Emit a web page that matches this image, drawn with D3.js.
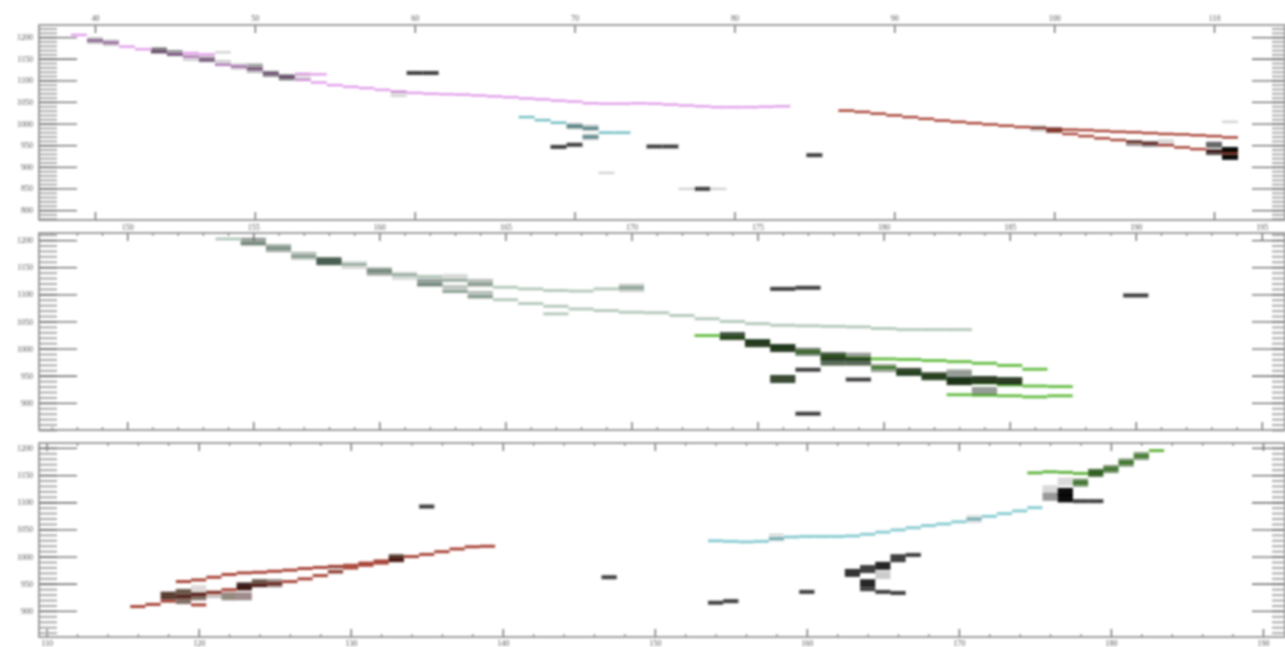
<!DOCTYPE html>
<html>
<head>
<meta charset="utf-8">
<script src="https://cdn.jsdelivr.net/npm/d3@7"></script>
<style>
body { margin: 0; background: #fff; }
svg text { font-family: "Liberation Serif", serif; font-size: 8px; fill: #555; }
</style>
</head>
<body>
<script>
// tick labels
var xTicks1 = [40, 50, 60, 70, 80, 90, 100, 110];
var xTicks2 = [150, 155, 160, 165, 170, 175, 180, 185, 190, 195];
var xTicks3 = [110, 120, 130, 140, 150, 160, 170, 180, 190];
var yTicks1 = [800, 850, 900, 950, 1000, 1050, 1100, 1150, 1200];
var yTicks23 = [900, 950, 1000, 1050, 1100, 1150, 1200];

// ---- panel 1 : [frame, frequency] ----
var p1Violet = [[39,1205],[40,1192],[41,1187],[42,1178],[43,1172],[44,1166],[45,1160],[46,1155],[47,1147],[48,1136],[49,1132],[50,1126],[51,1116],[52,1108],[53,1101],[54,1095],[55,1089],[56,1085],[57,1082],[58,1078],[59,1074],[60,1071],[61,1069],[62,1068],[63,1067],[64,1065],[65,1063],[66,1061],[67,1058],[68,1056],[69,1053],[70,1051],[71,1047],[72,1046],[73,1046],[74,1047],[75,1046],[76,1044],[77,1042],[78,1040],[79,1038],[80,1038],[81,1038],[82,1039],[83,1040]];
var p1VioletBranch = [[46,1163],[47,1160],[53,1115],[54,1114]];
var p1Teal = [[67,1015],[68,1008],[69,1002],[70,994],[71,989],[72,979],[73,979],[71,969]];
var p1Brown = [[87,1030],[88,1027],[89,1023],[90,1019],[91,1015],[92,1011],[93,1007],[94,1004],[95,1001],[96,998],[97,995],[98,992],[99,990],[100,988],[101,986],[102,985],[103,983],[104,981],[105,980],[106,978],[107,976],[108,975],[109,973],[110,971],[111,968]];
var p1BrownLow = [[100,982],[101,976],[102,971],[103,966],[104,962],[105,958],[106,954],[107,950],[108,945],[109,941],[110,936],[111,933]];
var p1Faint = [[48,1165],[72,886],[77,849],[79,849],[111,1004]];
var p1Dark = [[60,1117],[61,1117],[69,946],[70,951],[75,947],[76,947],[85,927],[78,849]];
// [frame, frequency, energy]
var p1Blocks = [[40,1192,0.35],[41,1187,0.3],[44,1169,0.55],[45,1163,0.45],[46,1152,0.2],[47,1149,0.45],[48,1140,0.2],[49,1132,0.25],[50,1132,0.35],[50,1124,0.3],[51,1115,0.5],[52,1107,0.55],[53,1107,0.15],[59,1068,0.15],
  [70,994,0.35],[71,990,0.3],[71,969,0.3],
  [99,989,0.2],[100,985,0.25],[105,955,0.4],[106,953,0.45],[107,957,0.15],[110,951,0.6],[110,934,0.65],[111,939,0.95],[111,923,0.95]];

// ---- panel 2 ----
var p2Sage = [[154,1202],[155,1194],[156,1185],[157,1170],[158,1161],[159,1155],[160,1143],[161,1136],[162,1133],[163,1126],[164,1119],[165,1113],[166,1110],[167,1107],[168,1106],[169,1110],[170,1112]];
var p2SageLow = [[162,1118],[163,1105],[164,1096],[165,1090],[166,1083],[167,1078],[168,1073],[169,1070],[170,1067],[171,1066],[172,1061],[173,1055],[174,1050],[175,1046],[176,1043],[177,1042],[178,1041],[179,1040],[180,1037],[181,1035],[182,1035],[183,1035],[167,1064]];
var p2Green = [[173,1024],[174,1021],[175,1013],[176,1003],[177,994],[178,986],[179,982],[180,981],[181,980],[182,978],[183,976],[184,973],[185,969],[186,962]];
var p2GreenMid = [[180,965],[181,955],[182,949],[183,942],[184,937],[185,933],[186,931],[187,930]];
var p2GreenLow = [[183,915],[184,914],[185,913],[186,911],[187,913]];
var p2SageBlocks = [[155,1197,0.5],[156,1185,0.45],[157,1171,0.35],[158,1161,0.85],[159,1154,0.2],[160,1142,0.5],[161,1134,0.2],[162,1123,0.3],[163,1130,0.2],[162,1121,0.3],[163,1110,0.3],[164,1121,0.35],[164,1099,0.35],[170,1112,0.3]];
var p2GreenBlocks = [[174,1023,0.8],[175,1010,0.9],[176,1001,0.9],[177,994,0.6],[178,986,0.75],[178,976,0.7],[179,985,0.45],[179,976,0.7],[180,964,0.45],[181,957,0.85],[182,949,0.85],[183,954,0.45],[183,940,0.95],[184,942,0.9],[184,922,0.45],[185,940,0.9],[176,944,0.85]];
var p2Dark = [[176,1110],[177,1112],[177,961],[179,943],[190,1098],[177,880]];

// ---- panel 3 ----
var p3Brown = [[119,954],[120,957],[121,962],[122,967],[123,970],[124,971],[125,973],[126,975],[127,978],[128,980],[129,982],[130,984],[131,988],[132,992],[133,996],[134,1000],[135,1004],[136,1009],[137,1014],[138,1018],[139,1019]];
var p3BrownLow = [[116,908],[117,912],[118,918],[119,926],[120,930],[121,934],[122,939],[123,943],[124,947],[125,950],[126,954],[127,959],[128,965],[129,972],[130,979],[131,984],[132,988],[133,993],[120,911]];
var p3Teal = [[154,1029],[155,1028],[156,1027],[157,1028],[158,1033],[159,1036],[160,1037],[161,1037],[162,1037],[163,1038],[164,1041],[165,1045],[166,1049],[167,1053],[168,1057],[169,1060],[170,1064],[171,1069],[172,1074],[173,1079],[174,1084],[175,1090]];
var p3Green = [[175,1154],[176,1156],[177,1155],[178,1153],[179,1154],[180,1161],[181,1173],[182,1185],[183,1195],[178,1136]];
var p3BrownBlocks = [[118,928,0.8],[119,933,0.7],[119,920,0.6],[120,940,0.15],[120,927,0.6],[121,931,0.25],[122,927,0.5],[123,927,0.45],[123,945,0.9],[124,951,0.7],[125,951,0.5],[129,975,0.2],[133,997,0.75]];
var p3GrayBlocks = [[158,1035,0.15],[171,1069,0.15],[163,970,0.8],[164,977,0.75],[165,983,0.85],[166,997,0.75],[164,951,0.85],[165,966,0.2],[176,1124,0.15],[176,1110,0.4],[177,1138,0.15],[177,1119,0.95],[177,1107,0.95]];
var p3GreenBlocks = [[178,1136,0.6],[179,1154,0.8],[180,1161,0.6],[181,1173,0.6],[182,1185,0.55]];
var p3Dark = [[135,1092],[147,962],[154,915],[155,918],[160,935],[164,940],[165,935],[166,933],[167,1003],[178,1102],[179,1102]];

// ---- layout ----
var width = 1285, height = 647, left = 39, right = 1285;
var panels = [
  { top: 25, bottom: 220, xDom: [36.5, 114.44], yDom: [777, 1228], xTicks: xTicks1, minor: 2, yTicks: yTicks1, labels: "top", pad: 4, lineH: 2.5, blockH: 6,
    tracks: [[p1Violet, "#e2a2ea"], [p1VioletBranch, "#e2a2ea"], [p1Teal, "#76bfc3"], [p1Brown, "#a9463a"], [p1BrownLow, "#a9463a"], [p1Faint, "#d4d4d4"]],
    blocks: [[p1Blocks, "#000"]], dark: p1Dark },
  { top: 233, bottom: 430, xDom: [146.5, 195.92], yDom: [850, 1213], xTicks: xTicks2, minor: 1, yTicks: yTicks23, labels: "top", pad: 3, lineH: 3, blockH: 8,
    tracks: [[p2Sage, "#b7cabd"], [p2SageLow, "#b7cabd"], [p2Green, "#6cc04c"], [p2GreenMid, "#6cc04c"], [p2GreenLow, "#6cc04c"]],
    blocks: [[p2SageBlocks, "#33483a"], [p2GreenBlocks, "#14280f"]], dark: p2Dark },
  { top: 443, bottom: 637, xDom: [109.5, 191.45], yDom: [852, 1209], xTicks: xTicks3, minor: 2, yTicks: yTicks23, labels: "bottom", pad: 3, lineH: 3, blockH: 8,
    tracks: [[p3Brown, "#a9463a"], [p3BrownLow, "#a9463a"], [p3Teal, "#8ccdd2"], [p3Green, "#66b544"]],
    blocks: [[p3BrownBlocks, "#2e0e08"], [p3GrayBlocks, "#000"], [p3GreenBlocks, "#1d4a10"]], dark: p3Dark }
];

var svg = d3.select("body").append("svg")
    .attr("width", width)
    .attr("height", height);

svg.append("defs").append("filter")
    .attr("id", "soft")
  .append("feGaussianBlur")
    .attr("stdDeviation", 0.8);

var root = svg.append("g").attr("filter", "url(#soft)");

panels.forEach(function(p, i) {
  var x = d3.scaleLinear().domain(p.xDom).range([left, right]);
  var y = d3.scaleLinear().domain(p.yDom).range([p.bottom, p.top]);
  var unit = x(1) - x(0);
  var g = root.append("g");

  g.append("clipPath").attr("id", "clip" + i)
    .append("rect").attr("x", left).attr("y", p.top).attr("width", right - left).attr("height", p.bottom - p.top);

  var marks = g.append("g").attr("clip-path", "url(#clip" + i + ")");

  // tracks, one step per frame
  p.tracks.forEach(function(t) {
    marks.append("g").selectAll("rect")
      .data(t[0])
      .enter().append("rect")
        .attr("x", function(d){ return x(d[0] - 0.5); })
        .attr("width", unit)
        .attr("y", function(d){ return y(d[1]) - p.lineH / 2; })
        .attr("height", p.lineH)
        .attr("fill", t[1]);
  });

  // energy blocks on top
  p.blocks.forEach(function(b) {
    marks.append("g").selectAll("rect")
      .data(b[0])
      .enter().append("rect")
        .attr("x", function(d){ return x(d[0] - 0.5); })
        .attr("width", unit)
        .attr("y", function(d){ return y(d[1]) - p.blockH / 2; })
        .attr("height", p.blockH)
        .attr("fill", b[1])
        .attr("fill-opacity", function(d){ return d[2]; });
  });

  marks.append("g").selectAll("rect")
    .data(p.dark)
    .enter().append("rect")
      .attr("x", function(d){ return x(d[0] - 0.5); })
      .attr("width", unit)
      .attr("y", function(d){ return y(d[1]) - 2; })
      .attr("height", 4)
      .attr("fill", "#222")
      .attr("fill-opacity", 0.85);

  // axes
  var minorX = d3.range(Math.ceil(p.xDom[0]), p.xDom[1], p.minor).filter(function(v){ return p.xTicks.indexOf(v) < 0 && v % p.minor === 0; });
  var minorY = d3.range(Math.ceil(p.yDom[0] / 10) * 10, p.yDom[1], 10);

  var topAx = d3.axisTop(x).tickValues(p.xTicks).tickSize(-8).tickPadding(p.pad).tickFormat(d3.format("d"));
  var botAx = d3.axisBottom(x).tickValues(p.xTicks).tickSize(-8).tickPadding(p.pad).tickFormat(d3.format("d"));
  if (p.labels === "top") botAx.tickFormat(""); else topAx.tickFormat("");

  var axes = [
    [topAx, "translate(0," + p.top + ")", "#555", 1.2],
    [botAx, "translate(0," + p.bottom + ")", "#555", 1.2],
    [d3.axisTop(x).tickValues(minorX).tickSize(-3).tickFormat(""), "translate(0," + p.top + ")", "#666", 1],
    [d3.axisBottom(x).tickValues(minorX).tickSize(-3).tickFormat(""), "translate(0," + p.bottom + ")", "#666", 1],
    [d3.axisLeft(y).tickValues(minorY).tickSize(-18).tickFormat(""), "translate(" + left + ",0)", "#aaa", 2],
    [d3.axisLeft(y).tickValues(p.yTicks).tickSize(-38).tickPadding(6).tickFormat(d3.format("d")), "translate(" + left + ",0)", "#666", 1.3],
    [d3.axisRight(y).tickValues(minorY).tickSize(-13).tickFormat(""), "translate(" + right + ",0)", "#aaa", 2],
    [d3.axisRight(y).tickValues(p.yTicks).tickSize(-33).tickFormat(""), "translate(" + right + ",0)", "#666", 1.3]
  ];
  axes.forEach(function(a) {
    var ag = g.append("g").attr("transform", a[1]).call(a[0]);
    ag.select(".domain").remove();
    ag.selectAll("line").attr("stroke", a[2]).attr("stroke-width", a[3]);
    ag.selectAll("text").attr("font-size", null).attr("font-family", null).attr("fill", "#555");
  });

  g.append("rect")
    .attr("x", left).attr("y", p.top)
    .attr("width", right - left).attr("height", p.bottom - p.top)
    .attr("fill", "none")
    .attr("stroke", "#888")
    .attr("stroke-width", 1.6);
});
</script>
</body>
</html>
